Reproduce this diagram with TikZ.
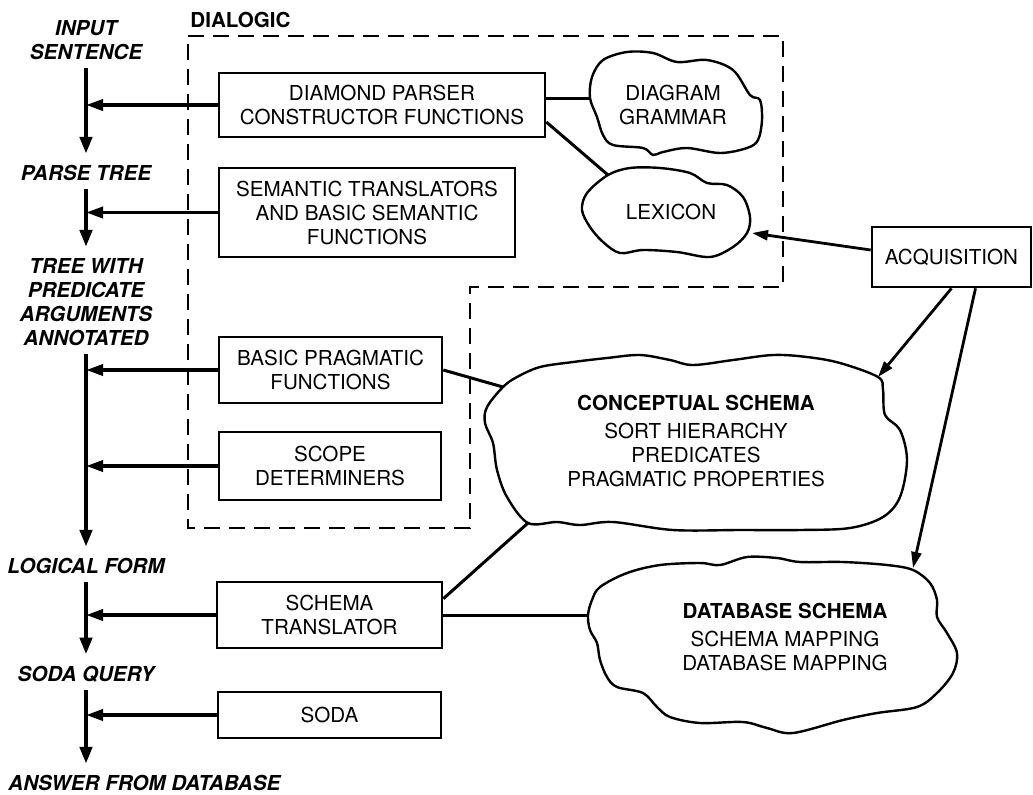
\documentclass[tikz,border=0pt]{standalone}
\usepackage{fontspec}
\setmainfont{TeX Gyre Heros}
\usetikzlibrary{arrows.meta}

\newcommand{\boxfont}{\fontsize{10.3}{12}\selectfont}
\newcommand{\stagefont}{\fontsize{10.3}{12}\selectfont\bfseries\itshape}

\tikzset{
  proc/.style={draw, line width=1.3pt, inner sep=0pt, align=center, font=\boxfont},
  stage/.style={inner sep=0pt, align=center, font=\stagefont},
  store/.style={inner sep=0pt, align=center, font=\boxfont},
  flow/.style={line width=1.8pt, -{Triangle[length=8.5pt,width=5.5pt]}},
  spine/.style={line width=2.2pt, -{Triangle[length=8.5pt,width=6pt]}, shorten <=4pt, shorten >=5.5pt},
  feed/.style={line width=1.4pt, -{Triangle[length=8pt,width=5pt]}},
  link/.style={line width=1.5pt},
  blob/.style={line width=1.2pt},
  region/.style={line width=1.1pt, dash pattern=on 8pt off 4.5pt},
}

\begin{document}
\begin{tikzpicture}[x=0.5pt, y=-0.5pt]
\useasboundingbox (0,0) rectangle (1033,794);

% dialogic region
\draw[region] (188,36) -- (783,36) -- (783,287) -- (470,287) -- (470,528) -- (188,528) -- cycle;
\node[anchor=west, font=\boxfont\bfseries, inner sep=0pt] (dialogic) at (190,20) {DIALOGIC};

% stages
\node[stage] (inp) at (86,40) {INPUT\\SENTENCE};
\node[stage] (parse) at (86,173) {PARSE TREE};
\node[stage] (tree) at (86,302) {TREE WITH\\PREDICATE\\ARGUMENTS\\ANNOTATED};
\node[stage] (logic) at (86,566) {LOGICAL FORM};
\node[stage] (sodaq) at (86,674) {SODA QUERY};
\node[stage, anchor=west] (answer) at (8,783) {ANSWER FROM DATABASE};

% processes
\node[proc, minimum width=163pt, minimum height=32pt] (diamond) at (382,105) {DIAMOND PARSER\\CONSTRUCTOR FUNCTIONS};
\node[proc, minimum width=148pt, minimum height=44.5pt] (semantic) at (367,212.5) {SEMANTIC TRANSLATORS\\AND BASIC SEMANTIC\\FUNCTIONS};
\node[proc, minimum width=111.5pt, minimum height=33pt] (pragmatic) at (330.5,370) {BASIC PRAGMATIC\\FUNCTIONS};
\node[proc, minimum width=111pt, minimum height=34pt] (scope) at (330,466) {SCOPE\\DETERMINERS};
\node[proc, minimum width=112.5pt, minimum height=33pt] (translator) at (329.5,615) {SCHEMA\\TRANSLATOR};
\node[proc, minimum width=111.5pt, minimum height=23pt] (soda) at (329.5,715) {SODA};
\node[proc, minimum width=79.5pt, minimum height=30pt] (acq) at (951.5,257) {ACQUISITION};

% knowledge sources
\node[store] (grammar) at (673,105) {DIAGRAM\\GRAMMAR};
\draw[blob] plot[smooth cycle, tension=0.55] coordinates {(590,98) (592,77) (603,60) (627,52) (653,53) (677,62) (707,60) (733,70) (750,95) (760,100) (762,120) (758,140) (747,148) (720,153) (687,148) (663,152) (653,155) (643,148) (613,145) (603,135) (597,117)};
\coordinate (grammar-w) at (590,98);

\node[store] (lexicon) at (671,212) {LEXICON};
\draw[blob] plot[smooth cycle, tension=0.55] coordinates {(608,175) (630,168) (660,168) (690,173) (707,183) (727,185) (743,197) (750,217) (747,233) (733,247) (710,257) (677,252) (643,250) (620,253) (603,242) (590,227) (582,210) (587,193)};
\coordinate (lexicon-nw) at (608,175);
\coordinate (lexicon-e) at (752,233);

\node[store] (concept) at (696,441) {\textbf{CONCEPTUAL SCHEMA}\\[2pt]SORT HIERARCHY\\PREDICATES\\PRAGMATIC PROPERTIES};
\draw[blob] plot[smooth cycle, tension=0.55] coordinates {(503,387) (487,407) (485,423) (493,443) (497,470) (507,497) (528,523) (557,522) (580,525) (613,522) (673,530) (740,530) (800,530) (850,528) (883,517) (900,497) (907,460) (900,430) (885,415) (883,390) (878,377) (840,363) (807,357) (773,355) (733,360) (693,365) (670,360) (640,355) (607,358) (573,362) (540,367) (517,377)};
\coordinate (concept-w) at (503,387);
\coordinate (concept-sw) at (528,523);
\coordinate (concept-ne) at (878,377);

\node[store] (db) at (785,637) {\textbf{DATABASE SCHEMA}\\[2pt]SCHEMA MAPPING\\DATABASE MAPPING};
\draw[blob] plot[smooth cycle, tension=0.55] coordinates {(588,615) (592,600) (600,587) (627,573) (660,565) (700,563) (720,565) (747,557) (777,558) (800,562) (843,562) (887,565) (913,570) (930,583) (937,600) (937,617) (947,633) (957,653) (953,673) (937,693) (917,707) (877,713) (843,720) (793,733) (767,728) (743,722) (700,723) (670,717) (657,707) (643,693) (617,687) (607,677) (600,660) (597,643) (590,630)};
\coordinate (db-w) at (588,615);
\coordinate (db-ne) at (913,568);

% main flow
\draw[spine] (inp.south) -- (parse.north);
\draw[spine] (parse.south) -- (tree.north);
\draw[spine] (tree.south) -- (logic.north);
\draw[spine] (logic.south) -- (sodaq.north);
\draw[spine] (sodaq.south) -- (sodaq.south |- answer.north);

% arrows into the flow
\draw[flow] (diamond.west) -- (diamond.west -| inp.south);
\draw[flow] (semantic.west) -- (semantic.west -| inp.south);
\draw[flow] (pragmatic.west) -- (pragmatic.west -| inp.south);
\draw[flow] (scope.west) -- (scope.west -| inp.south);
\draw[flow] (translator.west) -- (translator.west -| inp.south);
\draw[flow] (soda.west) -- (soda.west -| inp.south);

% links to knowledge
\draw[link] ([yshift=3.5pt]diamond.east) -- (grammar-w);
\draw[link] ([yshift=-8.5pt]diamond.east) -- (lexicon-nw);
\draw[link] (pragmatic.east) -- (concept-w);
\draw[link] ([yshift=-9pt]translator.north east) -- (concept-sw);
\draw[link] (translator.east) -- (db-w);

% acquisition
\draw[feed] ([yshift=3.5pt]acq.west) -- (lexicon-e);
\draw[feed] (acq.south) -- (concept-ne);
\draw[feed] ([xshift=12pt]acq.south) -- (db-ne);

\end{tikzpicture}
\end{document}
